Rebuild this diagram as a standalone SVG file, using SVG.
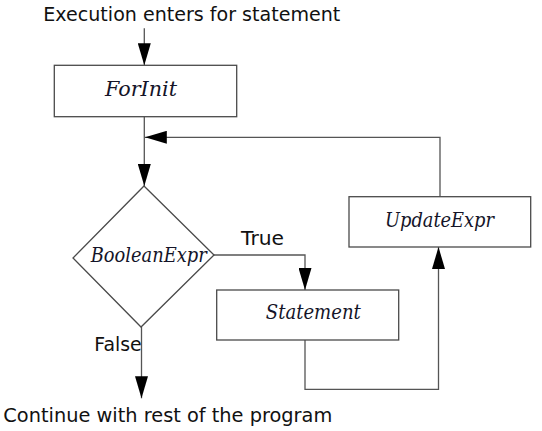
<svg xmlns="http://www.w3.org/2000/svg" width="542" height="431" viewBox="0 0 542 431">
  <defs>
    <marker id="arrow" markerUnits="userSpaceOnUse" markerWidth="22" markerHeight="13" refX="22" refY="6.5" orient="auto" viewBox="0 0 22 13">
      <path d="M0,0 L22,6.5 L0,13 Z" fill="#000"/>
    </marker>
    <style>
      .box { fill: #fff; stroke: #4a4a4a; stroke-width: 1.3; }
      .conn { fill: none; stroke: #555; stroke-width: 1.3; marker-end: url(#arrow); }
      .lbl { font-family: "DejaVu Sans", Verdana, sans-serif; font-size: 19px; fill: #111; }
      .it { font-family: "DejaVu Serif", "Liberation Serif", serif; font-style: italic; font-size: 19.5px; fill: #141428; text-anchor: middle; }
    </style>
  </defs>
  <rect width="542" height="431" fill="#fff"/>

  <text class="lbl" x="43.3" y="20.5" textLength="297" lengthAdjust="spacingAndGlyphs">Execution enters for statement</text>

  <g id="connectors">
    <path class="conn" d="M144.3,28.3 V65.3"/>
    <path class="conn" d="M144.3,116.7 V186"/>
    <path class="conn" d="M214,255 H305 V290"/>
    <path class="conn" d="M305,340 V389.3 H438.5 V247"/>
    <path class="conn" d="M440,196.7 V137.3 H144.8"/>
    <path class="conn" d="M141.5,327 V398.3"/>
  </g>

  <g id="forinit">
    <rect class="box" x="54.3" y="65.3" width="182.4" height="51.4"/>
    <text class="it" x="141" y="96" textLength="72" lengthAdjust="spacingAndGlyphs">ForInit</text>
  </g>

  <g id="booleanexpr">
    <polygon class="box" points="144,186 214,255 141,327 73,258"/>
    <text class="it" x="148.7" y="261.7" textLength="116" lengthAdjust="spacingAndGlyphs">BooleanExpr</text>
  </g>

  <g id="statement">
    <rect class="box" x="216.7" y="290" width="182" height="50"/>
    <text class="it" x="313.3" y="319" textLength="95" lengthAdjust="spacingAndGlyphs">Statement</text>
  </g>

  <g id="updateexpr">
    <rect class="box" x="349" y="196.7" width="181.7" height="50.3"/>
    <text class="it" x="439.5" y="226.7" textLength="109" lengthAdjust="spacingAndGlyphs">UpdateExpr</text>
  </g>

  <text class="lbl" x="241" y="245" textLength="43" lengthAdjust="spacingAndGlyphs">True</text>
  <text class="lbl" x="94.3" y="350.7" textLength="47.4" lengthAdjust="spacingAndGlyphs">False</text>
  <text class="lbl" x="3.3" y="421.7" textLength="329" lengthAdjust="spacingAndGlyphs">Continue with rest of the program</text>
</svg>
